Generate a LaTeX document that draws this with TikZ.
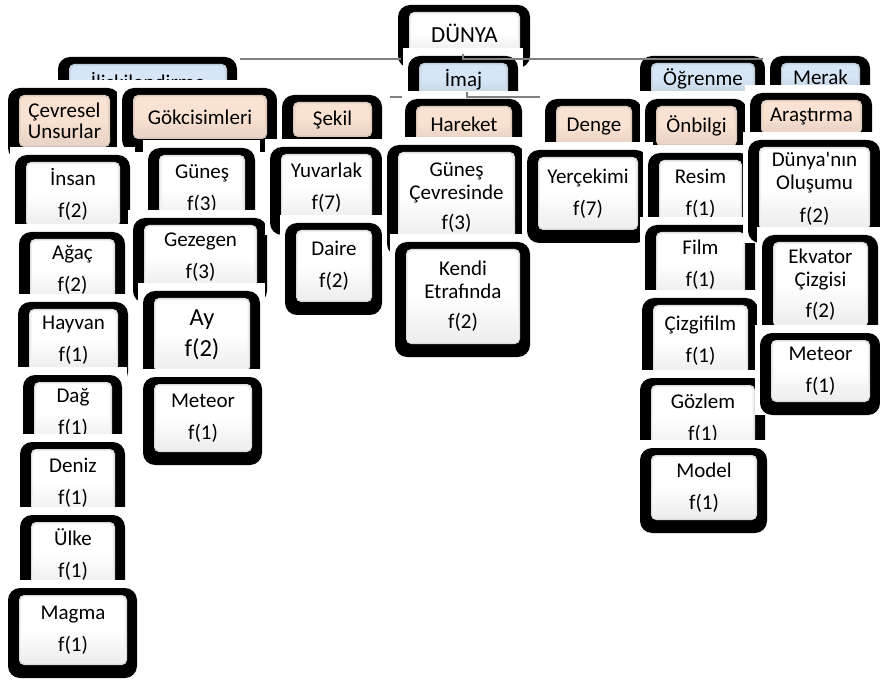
\documentclass[tikz,border=0pt]{standalone}
\usepackage{fontspec}
\setmainfont{Carlito}
\definecolor{colMavi}{RGB}{214,230,246}
\definecolor{colSeftali}{RGB}{250,226,210}
\definecolor{colCizgi}{RGB}{128,128,128}

\begin{document}
\begin{tikzpicture}[
  x=1pt, y=-1pt,
  zemin/.style={fill=white},
  kabuk/.style={fill=black, rounded corners=12pt},
  yazi/.style={align=center, inner sep=0pt},
  bag/.style={draw=colCizgi, line width=1.6pt},
]
\useasboundingbox (0,0) rectangle (880,684);

% kutular: ad/sol/ust/sag/alt/renk/boyut/metin (sirayla, sonraki oncekini kapatir)
\foreach \ad/\sol/\ust/\sag/\alt/\renk/\boyut/\metin in {
  dunya/398/5/530/68/white/23/{DÜNYA},
  iliski/58/57/237/112/colMavi/21/{İliskilendirme},
  imaj/408/56/518/110/colMavi/21/{İmaj},
  ogrenme/640/56/765/108/colMavi/21/{Öğrenme},
  merak/770/56/870/104/colMavi/21/{Merak},
  cevresel/8/88/120/160/colSeftali/21/{Çevresel\\[-2pt]Unsurlar},
  gokcisim/122/88/277/152/colSeftali/21/{Gökcisimleri},
  sekil/282/95/382/150/colSeftali/21/{Şekil},
  hareket/405/99/522/155/colSeftali/21/{Hareket},
  denge/545/99/642/161/colSeftali/21/{Denge},
  onbilgi/645/99/747/159/colSeftali/21/{Önbilgi},
  arastirma/750/93/872/147/colSeftali/21/{Araştırma},
  insan/15/155/130/240/white/21/{İnsan\\[9pt]f(2)},
  agac/19/232/125/314/white/21/{Ağaç\\[9pt]f(2)},
  hayvan/18/302/128/384/white/21/{Hayvan\\[9pt]f(1)},
  dag/23/375/122/457/white/21/{Dağ\\[9pt]f(1)},
  deniz/20/442/125/530/white/21/{Deniz\\[9pt]f(1)},
  ulke/20/515/125/600/white/21/{Ülke\\[9pt]f(1)},
  magma/8/588/137/678/white/21/{Magma\\[9pt]f(1)},
  gunes/148/148/255/236/white/21/{Güneş\\[9pt]f(3)},
  gezegen/133/218/267/303/white/21/{Gezegen\\[9pt]f(3)},
  ay/143/291/260/385/white/24.5/{Ay\\[8pt]f(2)},
  meteorA/143/377/262/465/white/21/{Meteor\\[9pt]f(1)},
  yuvarlak/270/147/382/235/white/21/{Yuvarlak\\[9pt]f(7)},
  daire/285/223/382/315/white/21/{Daire\\[9pt]f(2)},
  gunescevre/387/145/525/256/white/21/{Güneş\\Çevresinde\\[7pt]f(3)},
  kendi/395/242/530/357/white/21/{Kendi\\Etrafında\\[7pt]f(2)},
  yercekimi/527/150/648/243/white/21/{Yerçekimi\\[9pt]f(7)},
  resim/648/153/752/240/white/21/{Resim\\[9pt]f(1)},
  film/645/225/755/310/white/21/{Film\\[9pt]f(1)},
  cizgifilm/642/298/758/390/white/21/{Çizgifilm\\[9pt]f(1)},
  gozlem/640/378/765/465/white/21/{Gözlem\\[9pt]f(1)},
  model/640/448/767/533/white/21/{Model\\[9pt]f(1)},
  dunyanin/748/140/880/243/white/21/{Dünya\textquotesingle nın\\Oluşumu\\[10pt]f(2)},
  ekvator/762/235/878/340/white/21/{Ekvator\\Çizgisi\\[8pt]f(2)},
  meteorB/760/333/880/415/white/21/{Meteor\\[9pt]f(1)}%
}{
  \fill[zemin] (\sol-5,\ust-8) rectangle (\sag+5,\alt);
  \fill[kabuk] (\sol,\ust) rectangle (\sag,\alt);
  % egik kenar (bevel)
  \fill[\renk!72!gray, rounded corners=5pt] (\sol+11,\ust+7) rectangle (\sag-10,\alt-13);
  \fill[\renk!88!gray, rounded corners=4.5pt] (\sol+12,\ust+8) rectangle (\sag-11,\alt-14.5);
  \shade[top color=\renk, bottom color=\renk!93!black, middle color=\renk, rounded corners=4pt]
    (\sol+13.5,\ust+9) rectangle (\sag-12.5,\alt-16.5);
  \node[yazi, font=\fontsize{\boyut}{23}\selectfont] (\ad) at ({(\sol+\sag+1)/2},{(\ust+\alt-6)/2}) {\metin};
}

% baglanti cizgileri
\coordinate (hatA) at (240,59);
\coordinate (hatB) at (401,59);
\coordinate (hatC) at (463,54);
\coordinate (hatD) at (463,59);
\coordinate (hatE) at (763,59);
\coordinate (hatF) at (390,97);
\coordinate (hatG) at (402,97);
\coordinate (hatH) at (467,92);
\coordinate (hatI) at (467,97);
\coordinate (hatJ) at (540,97);
\draw[bag] (hatA) -- (hatB);
\draw[bag] (hatC) -- (hatD) -- (hatE);
\draw[bag] (hatF) -- (hatG);
\draw[bag] (hatH) -- (hatI) -- (hatJ);

\end{tikzpicture}
\end{document}
